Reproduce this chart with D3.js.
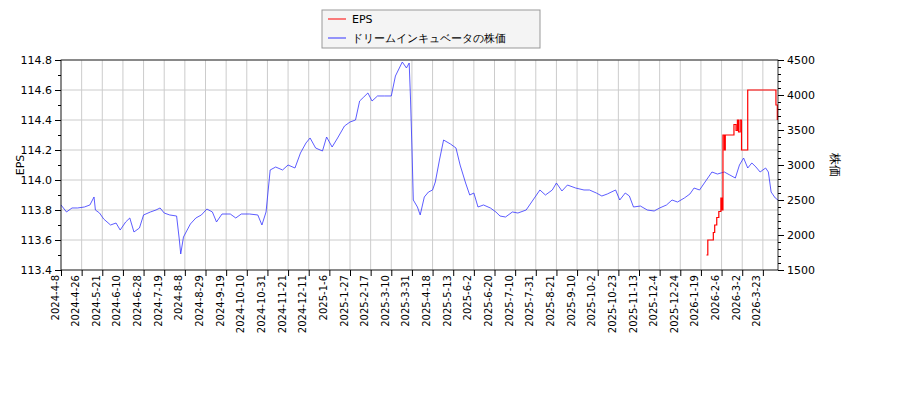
<!DOCTYPE html>
<html><head><meta charset="utf-8">
<script src="https://cdn.jsdelivr.net/npm/d3@7"></script>
<style>body{margin:0;background:#fff}text{font-family:"DejaVu Sans",sans-serif}</style>
</head><body><div id="chart"></div>
<script>
// x axis tick labels (every 15 trading days)
const tickLabels = ["2024-4-8","2024-4-26","2024-5-21","2024-6-10","2024-6-28","2024-7-19","2024-8-8","2024-8-29","2024-9-19","2024-10-10","2024-10-31","2024-11-21","2024-12-11","2025-1-6","2025-1-27","2025-2-17","2025-3-10","2025-3-31","2025-4-18","2025-5-13","2025-6-2","2025-6-20","2025-7-10","2025-7-31","2025-8-21","2025-9-10","2025-10-2","2025-10-23","2025-11-13","2025-12-4","2025-12-24","2026-1-19","2026-2-6","2026-3-2","2026-3-23"];
// price samples: trading day index -> price
const priceIdx = [0,4,8,12,17,21,24,25,28,31,36,40,43,47,50,53,57,60,65,69,72,75,79,84,86,87,89,94,98,102,106,110,113,117,123,127,131,137,143,146,149,152,156,161,165,170,174,178,181,185,190,193,197,201,206,210,214,217,220,223,226,230,235,240,243,248,251,253,254,255,256,259,261,264,267,270,272,275,278,283,287,290,294,297,300,303,307,312,316,319,323,328,332,338,344,348,352,357,360,364,368,374,380,384,389,393,397,403,406,410,413,416,421,426,431,435,440,444,448,453,457,460,464,469,473,477,482,486,490,493,496,499,502,505,508,512,514,516,519,521];
const priceVal = [2429,2329,2386,2386,2400,2429,2543,2357,2314,2229,2143,2171,2071,2186,2243,2043,2100,2286,2329,2357,2386,2314,2286,2271,1929,1729,1971,2157,2243,2286,2371,2329,2186,2300,2300,2243,2300,2300,2286,2143,2329,2929,2971,2929,3000,2957,3171,3314,3386,3243,3200,3400,3257,3386,3557,3614,3643,3914,3971,4029,3914,3986,3986,3986,4271,4471,4386,4457,3929,3257,2500,2400,2286,2543,2614,2643,2757,3071,3357,3300,3243,3000,2743,2571,2600,2400,2429,2386,2329,2271,2257,2329,2314,2357,2529,2643,2571,2643,2743,2629,2714,2671,2643,2643,2600,2557,2586,2643,2500,2600,2557,2400,2414,2357,2343,2386,2429,2500,2471,2529,2586,2671,2643,2786,2900,2871,2900,2857,2814,3000,3100,2957,3029,2971,2900,2957,2900,2614,2529,2500];
// EPS samples: trading day index -> EPS
const epsIdx = [469,470,474,475,476.5,478,479.5,480.3,481,482,482.7,489,490.5,491.5,492.3,493.5,494.5,499,519.5,520.5];
const epsVal = [113.5,113.6,113.65,113.7,113.75,113.79,113.88,113.8,114.3,114.2,114.3,114.37,114.33,114.4,114.32,114.4,114.2,114.6,114.5,114.4];

const W = 900, H = 400, m = {l: 61, r: 122, t: 60, b: 130};
const svg = d3.select("#chart").append("svg").attr("width", W).attr("height", H);

const x = d3.scaleLinear().domain([0, 521]).range([m.l, W - m.r]);
const yL = d3.scaleLinear().domain([113.4, 114.8]).range([H - m.b, m.t]);
const yR = d3.scaleLinear().domain([1500, 4500]).range([H - m.b, m.t]);
const tickIdx = tickLabels.map((d, i) => i * 15);

// grid
svg.append("g").selectAll("line").data(tickIdx).join("line")
    .attr("x1", d => x(d)).attr("x2", d => x(d)).attr("y1", m.t).attr("y2", H - m.b)
    .attr("stroke", "#ccc");
svg.append("g").selectAll("line").data(yL.ticks(7)).join("line")
    .attr("x1", m.l).attr("x2", W - m.r).attr("y1", d => yL(d)).attr("y2", d => yL(d))
    .attr("stroke", "#ccc");

// lines
svg.append("path").datum(d3.zip(priceIdx, priceVal))
    .attr("fill", "none").attr("stroke", "#3333ff").attr("stroke-width", 0.8)
    .attr("d", d3.line().x(d => x(d[0])).y(d => yR(d[1])));
svg.append("path").datum(d3.zip(epsIdx, epsVal))
    .attr("fill", "none").attr("stroke", "red").attr("stroke-width", 1.2)
    .attr("d", d3.line().curve(d3.curveStepAfter).x(d => x(d[0])).y(d => yL(d[1])));

// frame
svg.append("rect").attr("x", m.l).attr("y", m.t).attr("width", W - m.r - m.l).attr("height", H - m.t - m.b)
    .attr("fill", "none").attr("stroke", "#000").attr("stroke-width", 0.8);

// axes
const fs = "11px";
const gl = svg.append("g").attr("transform", `translate(${m.l},0)`)
    .call(d3.axisLeft(yL).tickValues(d3.range(113.4, 114.81, 0.2)).tickFormat(d3.format(".1f")).tickSizeOuter(0));
svg.append("g").attr("transform", `translate(${m.l},0)`)
    .call(d3.axisLeft(yL).tickValues(d3.range(113.5, 114.8, 0.2)).tickFormat("").tickSize(3).tickSizeOuter(0));
const gr = svg.append("g").attr("transform", `translate(${W - m.r},0)`)
    .call(d3.axisRight(yR).tickValues(d3.range(1500, 4501, 500)).tickFormat(d3.format("d")).tickSizeOuter(0));
svg.append("g").attr("transform", `translate(${W - m.r},0)`)
    .call(d3.axisRight(yR).tickValues(d3.range(1500, 4501, 100)).tickFormat("").tickSize(3).tickSizeOuter(0));
const gx = svg.append("g").attr("transform", `translate(0,${H - m.b})`)
    .call(d3.axisBottom(x).tickValues(tickIdx).tickFormat((d, i) => tickLabels[i]).tickSizeOuter(0));
gx.selectAll("text").attr("transform", "rotate(-90)").attr("text-anchor", "end")
    .attr("x", -5).attr("y", -3).attr("dy", "0").style("font-size", "10px");
[gl, gr].forEach(g => g.selectAll("text").style("font-size", fs));
svg.selectAll(".domain").remove();

svg.append("text").attr("transform", "translate(24,165) rotate(-90)").attr("text-anchor", "middle")
    .style("font-size", fs).text("EPS");
svg.append("text").attr("transform", "translate(831,165) rotate(90)").attr("text-anchor", "middle")
    .style("font-size", "12px").text("株価");

// legend
const lg = svg.append("g").attr("transform", "translate(322,10)");
lg.append("rect").attr("width", 218).attr("height", 38).attr("fill", "#f4f4f4").attr("stroke", "#999");
const leg = [["EPS", "red"], ["ドリームインキュベータの株価", "#3333ff"]];
leg.forEach((d, i) => {
    lg.append("line").attr("x1", 6).attr("x2", 24).attr("y1", 9 + i * 19).attr("y2", 9 + i * 19).attr("stroke", d[1]);
    lg.append("text").attr("x", 30).attr("y", 13 + i * 19).style("font-size", fs).text(d[0]);
});
</script></body></html>
